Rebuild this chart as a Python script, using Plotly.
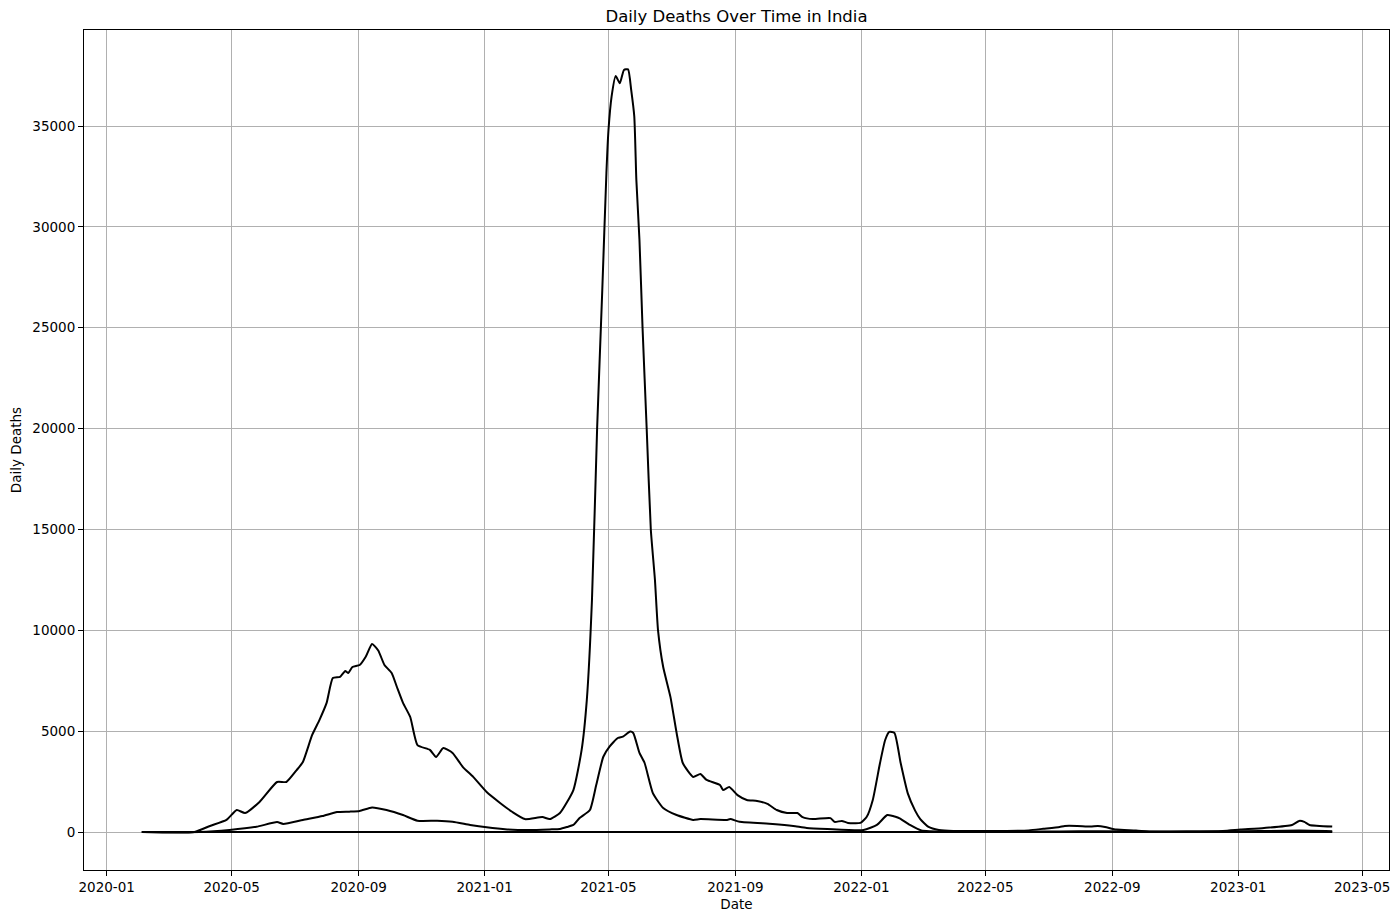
import plotly.graph_objects as go
import pandas as pd

# weekly total deaths (upper curve)
weekly_dates = [
    "2020-02-04", "2020-03-26", "2020-04-10", "2020-04-26", "2020-05-06", "2020-05-14",
    "2020-05-28", "2020-06-14", "2020-06-23", "2020-07-03", "2020-07-09", "2020-07-18",
    "2020-07-25", "2020-08-01", "2020-08-07", "2020-08-14", "2020-08-19", "2020-08-22",
    "2020-08-26", "2020-09-02", "2020-09-08", "2020-09-14", "2020-09-20", "2020-09-26",
    "2020-10-03", "2020-10-08", "2020-10-14", "2020-10-21", "2020-10-28", "2020-11-09",
    "2020-11-15", "2020-11-22", "2020-12-01", "2020-12-11", "2020-12-21", "2021-01-03",
    "2021-01-16", "2021-01-28", "2021-02-09", "2021-02-26", "2021-03-05", "2021-03-15",
    "2021-03-28", "2021-04-05", "2021-04-10", "2021-04-15", "2021-04-20", "2021-04-25",
    "2021-04-29", "2021-05-01", "2021-05-04", "2021-05-08", "2021-05-12", "2021-05-16",
    "2021-05-20", "2021-05-23", "2021-05-26", "2021-05-28", "2021-05-31", "2021-06-03",
    "2021-06-07", "2021-06-11", "2021-06-15", "2021-06-18", "2021-06-23", "2021-06-30",
    "2021-07-06", "2021-07-12", "2021-07-22", "2021-07-29", "2021-08-04", "2021-08-17",
    "2021-08-20", "2021-08-26", "2021-09-03", "2021-09-12", "2021-09-22", "2021-10-02",
    "2021-10-11", "2021-10-21", "2021-10-31", "2021-11-05", "2021-11-15", "2021-12-02",
    "2021-12-06", "2021-12-13", "2021-12-19", "2021-12-31", "2022-01-06", "2022-01-12",
    "2022-01-19", "2022-01-24", "2022-01-28", "2022-02-02", "2022-02-08", "2022-02-15",
    "2022-02-22", "2022-02-27", "2022-03-07", "2022-03-17", "2022-03-31", "2022-06-12",
    "2022-06-26", "2022-07-12", "2022-07-17", "2022-07-29", "2022-08-11", "2022-08-18",
    "2022-08-25", "2022-09-05", "2022-09-24", "2022-10-08", "2022-12-17", "2023-01-03",
    "2023-01-26", "2023-02-22", "2023-03-01", "2023-03-06", "2023-03-11", "2023-04-02",
]
weekly_deaths = [
    0, 0, 300, 600, 1090, 940,
    1490, 2480, 2480, 3070, 3470, 4810,
    5550, 6400, 7630, 7690, 7980, 7880,
    8180, 8280, 8700, 9320, 9000, 8280,
    7880, 7200, 6400, 5700, 4310, 4070,
    3720, 4160, 3920, 3220, 2730, 1980,
    1440, 990, 640, 740, 640, 940,
    2080, 4070, 6540, 11500, 20000, 26870,
    32670, 34800, 36460, 37480, 37120, 37780,
    37810, 36790, 35470, 32330, 29360, 25000,
    20000, 15000, 12500, 10000, 8180, 6700,
    4910, 3420, 2730, 2880, 2580, 2330,
    2080, 2230, 1830, 1590, 1540, 1390,
    1090, 940, 940, 740, 640, 690,
    500, 550, 450, 450, 740, 1590,
    3420, 4560, 4960, 4910, 3420, 1900,
    1060, 640, 250, 100, 50, 80,
    160, 250, 300, 300, 270, 300,
    250, 120, 80, 15, 50, 120,
    200, 350, 550, 500, 350, 270,
]

# daily deaths (middle curve)
daily_dates = [
    "2020-02-04", "2020-03-31", "2020-04-29", "2020-05-25", "2020-06-14", "2020-06-20",
    "2020-07-09", "2020-07-28", "2020-08-11", "2020-08-23", "2020-09-02", "2020-09-14",
    "2020-09-28", "2020-10-14", "2020-10-28", "2020-11-16", "2020-12-01", "2020-12-18",
    "2021-01-03", "2021-01-23", "2021-02-14", "2021-03-05", "2021-03-15", "2021-03-22",
    "2021-03-28", "2021-04-03", "2021-04-13", "2021-04-19", "2021-04-26", "2021-05-02",
    "2021-05-10", "2021-05-15", "2021-05-22", "2021-05-25", "2021-05-31", "2021-06-05",
    "2021-06-13", "2021-06-23", "2021-07-06", "2021-07-22", "2021-07-29", "2021-08-24",
    "2021-08-27", "2021-09-05", "2021-10-07", "2021-10-27", "2021-11-09", "2021-11-29",
    "2022-01-03", "2022-01-16", "2022-01-26", "2022-02-03", "2022-02-07", "2022-02-17",
    "2022-02-28", "2022-03-28", "2022-07-12", "2022-08-18", "2022-12-17", "2023-03-01",
    "2023-04-02",
]
daily_deaths = [
    0, 0, 100, 260, 490, 400,
    600, 790, 990, 1010, 1040, 1220,
    1090, 840, 560, 560, 510, 350,
    230, 130, 100, 130, 150, 250,
    350, 690, 1090, 2300, 3730, 4230,
    4660, 4730, 4980, 4910, 3920, 3420,
    1930, 1190, 840, 600, 640, 600,
    640, 510, 400, 300, 200, 150,
    100, 350, 840, 760, 680, 350,
    80, 20, 30, 40, 20, 70,
    40,
]

# deaths per million (flat bottom curve)
per_million_dates = [
    "2020-02-04", "2020-04-29", "2020-09-14", "2021-02-14", "2021-05-22",
    "2021-07-22", "2022-01-03", "2022-01-26", "2022-03-28", "2023-04-02",
]
per_million_deaths = [0.0, 0.07, 0.87, 0.07, 3.5, 0.43, 0.07, 0.6, 0.01, 0.03]

series = [
    (weekly_dates, weekly_deaths),
    (daily_dates, daily_deaths),
    (per_million_dates, per_million_deaths),
]

fig = go.Figure()

for dates, values in series:
    fig.add_trace(go.Scatter(
        x=pd.to_datetime(dates), y=values,
        mode="lines",
        line=dict(color="black", width=2, shape="spline", smoothing=0.5),
        showlegend=False,
    ))

axis_style = dict(
    showline=True, linecolor="black", linewidth=1, mirror=True,
    ticks="outside", ticklen=5, tickcolor="black",
    showgrid=True, gridcolor="#b0b0b0", gridwidth=1,
    zeroline=False,
    tickfont=dict(size=13.5, color="black"),
)

# page body has an 8px margin, so the figure is sized to fit inside it
fig.update_layout(
    width=1384, height=907,
    margin=dict(l=76, r=3, t=22, b=45),
    paper_bgcolor="white", plot_bgcolor="white",
    font=dict(family="DejaVu Sans", color="black"),
    title=dict(text="Daily Deaths Over Time in India", xref="paper", x=0.5,
               xanchor="center", y=0.991, yanchor="middle", font=dict(size=16.5)),
    xaxis=dict(
        title=dict(text="Date", font=dict(size=13.5), standoff=5),
        range=["2019-12-10", "2023-05-27"],
        tick0="2020-01-01", dtick="M4", tickformat="%Y-%m",
        **axis_style,
    ),
    yaxis=dict(
        title=dict(text="Daily Deaths", font=dict(size=13.5), standoff=7),
        range=[-1884, 39760],
        tick0=0, dtick=5000, tickformat="d",
        **axis_style,
    ),
)

fig.write_html("out.html")
